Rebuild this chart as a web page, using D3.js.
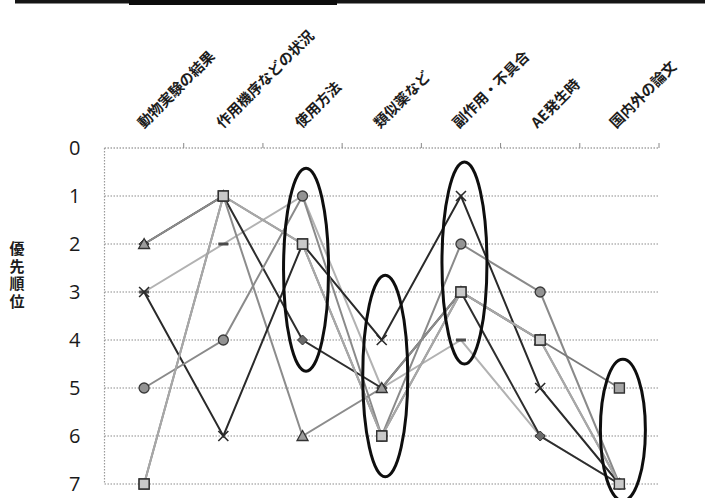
<!DOCTYPE html>
<html>
<head>
<meta charset="utf-8">
<script src="https://cdn.jsdelivr.net/npm/d3@7"></script>
<style>
  html, body { margin: 0; padding: 0; background: #fff; }
  svg { display: block; }
</style>
</head>
<body>
<svg id="chart" width="705" height="498"></svg>
<script>
// Information categories along the top axis
const categories = ["動物実験の結果", "作用機序などの状況", "使用方法", "類似薬など", "副作用・不具合", "AE発生時", "国内外の論文"];
// Priority rank ticks (0 at top)
const rankTicks = [0, 1, 2, 3, 4, 5, 6, 7];
const axisTitle = "優先順位";

// Priority ranks given by each respondent, one value per category
const dashRanks     = [3, 2, 1, 5, 4, 6, 7];
const diamondRanks  = [2, 1, 4, 5, 3, 6, 7];
const triangleRanks = [2, 1, 6, 5, 3, 4, 7];
const crossRanks    = [3, 6, 2, 4, 1, 5, 7];
const circleRanks   = [5, 4, 1, 6, 2, 3, 7];
const squareRanks   = [7, 1, 2, 6, 3, 4, 5];
const squareRanksB  = [7, 1, 2, 6, 3, 4, 7];

// Categories circled as the most decisive, with the rank span each ring covers
const ringCats  = ["使用方法", "類似薬など", "副作用・不具合", "国内外の論文"];
const ringSpans = [[0.42, 4.65], [2.65, 6.85], [0.29, 4.5], [4.4, 7.35]];

const series = [
  { ranks: dashRanks,     marker: "dash",     line: "#b2b2b2" },
  { ranks: diamondRanks,  marker: "diamond",  line: "#2e2e2e" },
  { ranks: triangleRanks, marker: "triangle", line: "#8c8c8c" },
  { ranks: crossRanks,    marker: "cross",    line: "#2a2a2a" },
  { ranks: circleRanks,   marker: "circle",   line: "#8a8a8a" },
  { ranks: squareRanks,   marker: "square",   line: "#7a7a7a", fill: "#a6a6a6" },
  { ranks: squareRanksB,  marker: "square",   line: "#a8a8a8", fill: "#c9c9c9" }
];

const svg = d3.select("#chart");
const plot = { left: 104.5, right: 659, top: 148, bottom: 484 };

const xBand = d3.scaleBand().domain(categories).range([plot.left, plot.right]);
const x = d3.scalePoint().domain(categories).range([plot.left, plot.right]).padding(0.5);
const y = d3.scaleLinear().domain([0, 7]).range([plot.top, plot.bottom]);
// Rotated header labels start just left of each category position
const xLabel = d3.scalePoint().domain(categories).range([144, 616]);

// Heavy rule across the top of the page
svg.append("rect").attr("x", 15).attr("y", 0).attr("width", 690).attr("height", 3.5).attr("fill", "#151515");
svg.append("rect").attr("x", 129).attr("y", 0).attr("width", 208).attr("height", 5).attr("fill", "#0d0d0d");

// Rank labels on the left
const yAxis = d3.axisLeft(y).tickValues(rankTicks).tickSize(0).tickPadding(24).tickFormat(d3.format("d"));
const gy = svg.append("g").attr("transform", `translate(${plot.left},0)`).call(yAxis);
gy.select(".domain").remove();
gy.selectAll("text")
  .attr("font-family", "'Open Sans', 'Noto Sans', sans-serif")
  .attr("font-size", 20)
  .attr("fill", "#1a1a1a");

// Horizontal dotted gridlines
svg.append("g").selectAll("line").data(rankTicks).join("line")
  .attr("x1", plot.left).attr("x2", plot.right)
  .attr("y1", d => y(d)).attr("y2", d => y(d))
  .attr("stroke", d => d === 0 ? "#777" : "#8c8c8c")
  .attr("stroke-width", 1.2)
  .attr("stroke-dasharray", "1.5,1.5");

// Left dotted axis line
svg.append("line")
  .attr("x1", plot.left).attr("x2", plot.left)
  .attr("y1", y(0)).attr("y2", y(7))
  .attr("stroke", "#9a9a9a").attr("stroke-width", 1.2).attr("stroke-dasharray", "1.5,1.5");

// Category boundary ticks on the top axis
svg.append("g").selectAll("line").data(categories).join("line")
  .attr("x1", d => xBand(d) + xBand.bandwidth()).attr("x2", d => xBand(d) + xBand.bandwidth())
  .attr("y1", y(0) - 5).attr("y2", y(0))
  .attr("stroke", "#888").attr("stroke-width", 1);

// Rotated category labels
svg.append("g").selectAll("text").data(categories).join("text")
  .attr("transform", d => `translate(${xLabel(d)},129) rotate(-45)`)
  .attr("font-family", "'Noto Sans CJK JP', sans-serif")
  .attr("font-weight", "bold")
  .attr("font-size", 14.5)
  .attr("fill", "#1c1c1c")
  .text(d => d);

// Vertical axis title
svg.append("text")
  .attr("x", 17).attr("y", 241)
  .attr("font-family", "'Noto Sans CJK JP', sans-serif")
  .attr("font-weight", "bold")
  .attr("font-size", 15)
  .attr("letter-spacing", 2.5)
  .attr("fill", "#1c1c1c")
  .style("writing-mode", "vertical-rl")
  .style("text-orientation", "upright")
  .text(axisTitle);

// Respondent lines
const line = d3.line().x((d, i) => x(categories[i])).y(d => y(d));
svg.append("g").selectAll("path").data(series).join("path")
  .attr("d", s => line(s.ranks))
  .attr("fill", "none")
  .attr("stroke", s => s.line)
  .attr("stroke-width", 2);

// Marker shapes
function markerPath(kind) {
  switch (kind) {
    case "square":   return "M-5,-5H5V5H-5Z";
    case "diamond":  return "M0,-5L5,0L0,5L-5,0Z";
    case "triangle": return "M0,-5.5L5.5,4.5H-5.5Z";
    case "cross":    return "M-5,-5L5,5M5,-5L-5,5";
    case "dash":     return "M-5,-1.5H5V1.5H-5Z";
    default:         return null;
  }
}

const markerLayer = svg.append("g");
series.forEach(s => {
  const g = markerLayer.append("g");
  const pts = s.ranks.map((r, i) => ({ cx: x(categories[i]), cy: y(r) }));
  if (s.marker === "circle") {
    g.selectAll("circle").data(pts).join("circle")
      .attr("cx", d => d.cx).attr("cy", d => d.cy).attr("r", 5)
      .attr("fill", "#939393").attr("stroke", "#3a3a3a").attr("stroke-width", 1.3);
  } else {
    const p = g.selectAll("path").data(pts).join("path")
      .attr("transform", d => `translate(${d.cx},${d.cy})`)
      .attr("d", markerPath(s.marker));
    if (s.marker === "cross") {
      p.attr("fill", "none").attr("stroke", "#2a2a2a").attr("stroke-width", 1.6);
    } else if (s.marker === "dash") {
      p.attr("fill", "#4a4a4a").attr("stroke", "none");
    } else if (s.marker === "diamond") {
      p.attr("fill", "#6a6a6a").attr("stroke", "#333").attr("stroke-width", 1);
    } else if (s.marker === "triangle") {
      p.attr("fill", "#9c9c9c").attr("stroke", "#333").attr("stroke-width", 1.3);
    } else {
      p.attr("fill", s.fill).attr("stroke", "#333").attr("stroke-width", 1.4);
    }
  }
});

// Highlight rings
svg.append("g").selectAll("ellipse").data(ringCats).join("ellipse")
  .attr("cx", d => x(d) + 3.5)
  .attr("cy", (d, i) => (y(ringSpans[i][0]) + y(ringSpans[i][1])) / 2)
  .attr("rx", 22.5)
  .attr("ry", (d, i) => (y(ringSpans[i][1]) - y(ringSpans[i][0])) / 2)
  .attr("fill", "none")
  .attr("stroke", "#0e0e0e")
  .attr("stroke-width", 3);
</script>
</body>
</html>
